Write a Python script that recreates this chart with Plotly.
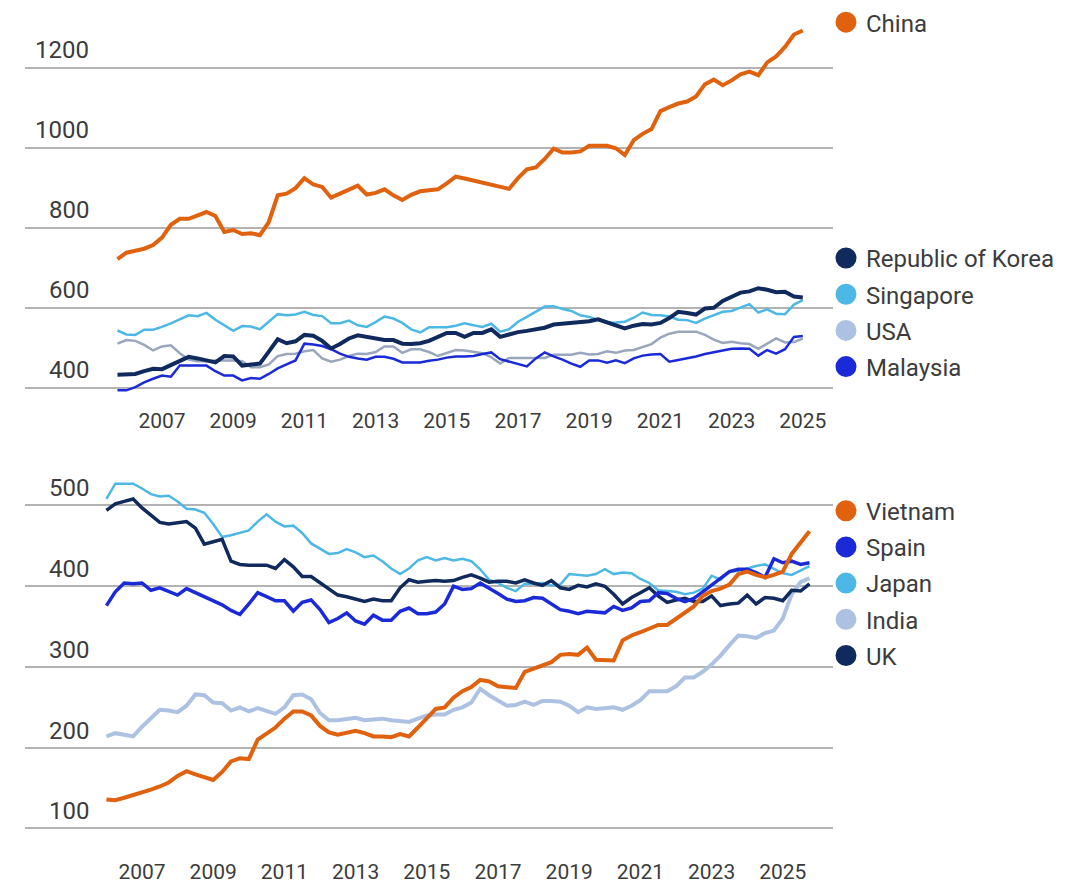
import plotly.graph_objects as go

W, H = 1089, 883

# ---------------- data ----------------
top_x = [2005.75 + 0.25 * i for i in range(78)]   # quarterly, top panel
bot_x = [2006.0 + 0.25 * i for i in range(80)]    # quarterly, bottom panel

year_ticks = [2007, 2009, 2011, 2013, 2015, 2017, 2019, 2021, 2023, 2025]
year_labels = [str(y) for y in year_ticks]
top_yticks = [400, 600, 800, 1000, 1200]
bot_yticks = [100, 200, 300, 400, 500]

china = [722, 738, 743, 748, 757, 776, 808, 823, 823, 831, 840, 830, 790, 795, 785, 787,
         782, 815, 882, 886, 900, 925, 909, 903, 876, 886, 897, 906, 884, 888, 897, 882,
         870, 883, 892, 895, 897, 912, 929, 924, 919, 914, 908, 902, 898, 925, 947, 952,
         973, 999, 989, 989, 992, 1006, 1006, 1006, 1000, 983, 1020, 1036, 1048, 1093, 1103, 1112,
         1117, 1130, 1160, 1172, 1158, 1170, 1185, 1192, 1183, 1215, 1230, 1254, 1285, 1295]
korea = [432, 432, 434, 441, 447, 446, 457, 467, 477, 473, 467, 463, 479, 478, 455, 457,
         460, 490, 521, 511, 516, 532, 530, 517, 498, 509, 523, 531, 527, 522, 519, 519,
         510, 509, 511, 517, 527, 537, 537, 527, 537, 537, 546, 527, 533, 539, 542, 545,
         550, 558, 560, 561, 562, 566, 571, 564, 557, 548, 555, 559, 558, 562, 574, 590,
         587, 583, 598, 600, 617, 628, 638, 641, 649, 645, 639, 640, 628, 626]
singapore = [543, 533, 532, 545, 545, 552, 561, 571, 581, 579, 587, 570, 556, 542, 554, 553,
             546, 566, 584, 581, 583, 590, 582, 579, 561, 561, 568, 556, 552, 564, 578, 573,
             562, 546, 538, 551, 551, 551, 555, 561, 556, 552, 560, 540, 546, 565, 577, 591,
             603, 604, 597, 592, 581, 577, 570, 562, 563, 565, 575, 588, 582, 581, 578, 570,
             569, 562, 573, 582, 590, 592, 600, 609, 588, 596, 585, 584, 608, 619]
usa = [510, 519, 517, 507, 493, 503, 506, 486, 470, 466, 466, 468, 468, 468, 466, 451,
       451, 458, 479, 484, 485, 491, 494, 473, 465, 470, 479, 485, 484, 489, 503, 503,
       487, 496, 496, 489, 479, 487, 494, 493, 489, 486, 476, 460, 474, 474, 474, 474,
       474, 482, 482, 482, 487, 483, 484, 491, 487, 493, 494, 502, 509, 525, 535, 540,
       540, 540, 532, 520, 512, 515, 511, 509, 497, 511, 523, 513, 514, 523]
malaysia = [393, 393, 401, 413, 422, 430, 427, 455, 455, 455, 455, 441, 430, 430, 418, 424,
            422, 434, 448, 458, 468, 510, 508, 504, 496, 485, 477, 473, 470, 477, 477, 472,
            463, 463, 463, 467, 470, 475, 478, 478, 479, 484, 488, 471, 465, 459, 453, 473,
            488, 478, 470, 460, 452, 468, 468, 462, 468, 461, 473, 480, 483, 484, 465, 469,
            473, 478, 484, 488, 492, 497, 498, 497, 480, 494, 485, 496, 527, 529]

vietnam = [136, 135, 138, 141, 144, 148, 152, 157, 165, 171, 167, 163, 160, 170, 183, 187,
           186, 210, 218, 225, 236, 245, 245, 240, 227, 219, 216, 218, 221, 218, 214, 214,
           213, 217, 214, 225, 236, 248, 250, 262, 270, 275, 284, 282, 276, 275, 274, 294,
           298, 302, 306, 315, 316, 315, 324, 309, 308, 308, 333, 339, 343, 347, 352, 352,
           360, 367, 375, 388, 394, 397, 402, 415, 418, 414, 411, 414, 418, 440, 455, 468]
spain = [376, 393, 404, 403, 404, 395, 398, 394, 389, 397, 392, 387, 381, 377, 370, 365,
         378, 392, 387, 382, 382, 369, 380, 383, 371, 355, 360, 367, 357, 353, 364, 358,
         358, 369, 373, 366, 366, 368, 378, 400, 396, 397, 404, 398, 391, 384, 381, 382,
         386, 385, 378, 371, 369, 366, 369, 368, 367, 375, 370, 373, 381, 382, 392, 391,
         385, 381, 385, 393, 401, 410, 418, 421, 421, 417, 411, 434, 429, 431, 427, 429]
japan = [508, 527, 527, 527, 521, 514, 511, 512, 505, 496, 495, 491, 477, 461, 463, 466,
         469, 480, 489, 480, 474, 475, 466, 453, 446, 440, 441, 446, 442, 436, 438, 431,
         422, 415, 422, 432, 436, 432, 435, 432, 434, 431, 421, 408, 404, 398, 394, 403,
         403, 404, 401, 402, 415, 414, 413, 415, 421, 415, 417, 416, 409, 404, 395, 394,
         393, 390, 392, 397, 413, 408, 418, 419, 422, 425, 427, 421, 416, 414, 419, 425]
india = [214, 218, 216, 214, 226, 237, 247, 246, 244, 252, 266, 265, 256, 255, 246, 250,
         245, 249, 245, 242, 250, 265, 266, 260, 243, 234, 234, 236, 237, 234, 235, 236,
         234, 233, 232, 236, 240, 241, 241, 247, 250, 256, 273, 265, 258, 252, 253, 257,
         253, 258, 258, 257, 252, 244, 250, 248, 249, 250, 247, 252, 259, 270, 270, 270,
         276, 287, 287, 294, 303, 314, 327, 339, 338, 336, 342, 345, 360, 390, 405, 410]
uk = [494, 502, 505, 508, 497, 488, 479, 477, 479, 480, 472, 452, 455, 458, 431, 427,
      426, 426, 426, 422, 433, 424, 412, 412, 404, 396, 389, 387, 384, 381, 384, 382,
      382, 398, 408, 405, 406, 407, 406, 407, 411, 414, 410, 405, 406, 406, 404, 408,
      404, 401, 407, 398, 396, 401, 399, 403, 400, 390, 378, 386, 392, 398, 388, 380,
      383, 385, 381, 381, 388, 376, 378, 379, 389, 378, 386, 385, 382, 395, 394, 403]

ORANGE = "#E0610E"
NAVY = "#112A5E"
SKY = "#4DB8E6"
PALE = "#ADC2E2"
BLUE = "#1A2AD8"
USA_LINE = "#9AA6BC"

# (name, values, line colour, legend colour, width)
top_series = [
    ("USA", usa, USA_LINE, PALE, 2.5),
    ("Malaysia", malaysia, BLUE, BLUE, 2.5),
    ("Singapore", singapore, SKY, SKY, 2.5),
    ("Republic of Korea", korea, NAVY, NAVY, 4),
    ("China", china, ORANGE, ORANGE, 4),
]
bot_series = [
    ("India", india, PALE, PALE, 4),
    ("Japan", japan, SKY, SKY, 2.5),
    ("UK", uk, NAVY, NAVY, 3.5),
    ("Spain", spain, BLUE, BLUE, 3.5),
    ("Vietnam", vietnam, ORANGE, ORANGE, 4),
]
legend1_order = ["China"]
legend2_order = ["Republic of Korea", "Singapore", "USA", "Malaysia"]
legend3_order = ["Vietnam", "Spain", "Japan", "India", "UK"]

# ---------------- layout helpers (pixels -> paper) ----------------
def px_x(p):
    return p / W

def px_y(p):
    return 1 - p / H

FONT = "Roboto, Arial, sans-serif"
TXT = "#3c3c3c"

fig = go.Figure()

for name, ys, lc, _, w in top_series:
    fig.add_trace(go.Scatter(x=top_x, y=ys, mode="lines", name=name,
                             line=dict(color=lc, width=w), showlegend=False,
                             xaxis="x", yaxis="y"))
for name, ys, lc, _, w in bot_series:
    fig.add_trace(go.Scatter(x=bot_x, y=ys, mode="lines", name=name,
                             line=dict(color=lc, width=w), showlegend=False,
                             xaxis="x2", yaxis="y2"))

legend_colors = {n: c for n, _, _, c, _ in top_series + bot_series}
for lg, names, ax in (("legend", legend1_order, ("x", "y")),
                      ("legend2", legend2_order, ("x", "y")),
                      ("legend3", legend3_order, ("x2", "y2"))):
    for n in names:
        c = legend_colors[n]
        fig.add_trace(go.Scatter(x=[None], y=[None], mode="markers", name=n,
                                 marker=dict(size=16, color=c, line=dict(width=5, color=c)),
                                 legend=lg, legendgroup=n, showlegend=True,
                                 xaxis=ax[0], yaxis=ax[1], hoverinfo="skip"))

# axis geometry (pixels)
X_L, X_R = 25, 833
TOP_T, TOP_B = 5, 401
BOT_T, BOT_B = 465, 853
top_range = [355.3, 1339.1]
bot_range = [69.3, 545.4]
top_xrange = [2003.152, 2025.848]
bot_xrange = [2003.713, 2026.41]

xcommon = dict(showgrid=False, zeroline=False, showline=False, ticks="",
               tickvals=year_ticks, ticktext=year_labels,
               tickfont=dict(family=FONT, size=21, color=TXT))
ycommon = dict(showgrid=True, gridcolor="#B3B3B3", gridwidth=2, zeroline=False,
               showline=False, ticks="", showticklabels=False)

legend_common = dict(font=dict(family=FONT, size=24, color=TXT), bgcolor="rgba(0,0,0,0)",
                     borderwidth=0, xanchor="left", yanchor="top", itemclick=False,
                     itemdoubleclick=False, traceorder="grouped", tracegroupgap=2,
                     itemwidth=30)

annotations = []
for v in top_yticks:
    annotations.append(dict(x=px_x(91), xref="paper", xanchor="right", y=v, yref="y",
                            yanchor="middle", yshift=18, text=str(v), showarrow=False,
                            font=dict(family=FONT, size=24, color=TXT)))
for v in bot_yticks:
    annotations.append(dict(x=px_x(91), xref="paper", xanchor="right", y=v, yref="y2",
                            yanchor="middle", yshift=17, text=str(v), showarrow=False,
                            font=dict(family=FONT, size=24, color=TXT)))

fig.update_layout(
    width=W, height=H,
    margin=dict(l=0, r=0, t=0, b=0),
    paper_bgcolor="white", plot_bgcolor="white",
    font=dict(family=FONT, color=TXT),
    xaxis=dict(domain=[px_x(X_L), px_x(X_R)], range=top_xrange, anchor="y",
               ticklabelstandoff=1, **xcommon),
    yaxis=dict(domain=[px_y(TOP_B), px_y(TOP_T)], range=top_range, anchor="x",
               tickvals=top_yticks, **ycommon),
    xaxis2=dict(domain=[px_x(X_L), px_x(X_R)], range=bot_xrange, anchor="y2",
                ticklabelstandoff=4, **xcommon),
    yaxis2=dict(domain=[px_y(BOT_B), px_y(BOT_T)], range=bot_range, anchor="x2",
                tickvals=bot_yticks, **ycommon),
    legend=dict(x=px_x(826), y=px_y(-8), **legend_common),
    legend2=dict(x=px_x(826), y=px_y(230), **legend_common),
    legend3=dict(x=px_x(826), y=px_y(485), **legend_common),
    annotations=annotations,
    showlegend=True,
    hovermode=False,
)

fig.write_html("out.html",
               config={"displayModeBar": False, "staticPlot": True},
               post_script="document.body.style.margin='0px';document.body.style.overflow='hidden';")
